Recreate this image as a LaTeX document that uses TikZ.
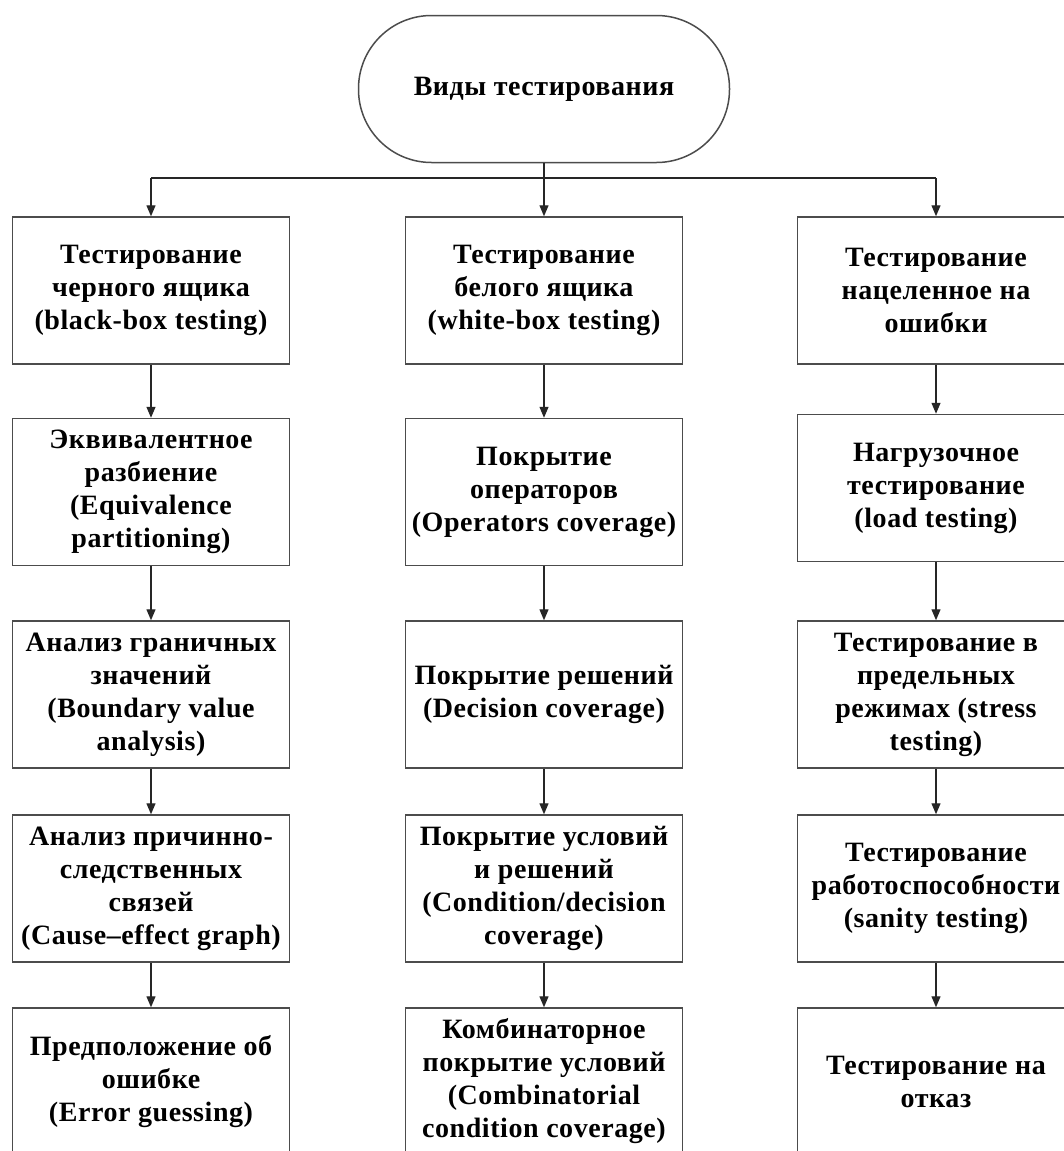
\documentclass[tikz,border=0pt]{standalone}
\usepackage{fontspec}
\setmainfont{Liberation Serif}[LetterSpace=2]
\usetikzlibrary{arrows.meta}
\tikzset{
  box/.style={draw=black!70, line width=1.5pt, rectangle, minimum width=277pt, minimum height=147pt, align=center, inner sep=2pt, font=\fontsize{28}{33}\selectfont\bfseries, text=black},
  start/.style={box, rounded corners=73pt, minimum width=371pt},
  conn/.style={line width=1.3pt, draw=black!85},
  arr/.style={conn, -{Triangle[length=11pt,width=9pt]}}
}
\begin{document}
\begin{tikzpicture}[x=1pt,y=-1pt]
\useasboundingbox (0,0) rectangle (1064,1151);
\clip (0,0) rectangle (1064,1151);
\fill[white] (0,0) rectangle (1064,1151);

\node[start] (top) at (544,89) {Виды тестирования};

\node[box] (a1) at (151,290.5) {Тестирование\\черного ящика\\(black-box testing)};
\node[box] (b1) at (544,290.5) {Тестирование\\белого ящика\\(white-box testing)};
\node[box] (c1) at (936,290.5) {Тестирование\\нацеленное на\\ошибки};

\node[box] (a2) at (151,492) {Эквивалентное\\разбиение\\(Equivalence\\partitioning)};
\node[box] (b2) at (544,492) {Покрытие\\операторов\\(Operators coverage)};
\node[box] (c2) at (936,488) {Нагрузочное\\тестирование\\(load testing)};

\node[box] (a3) at (151,694.5) {Анализ граничных\\значений\\(Boundary value\\analysis)};
\node[box] (b3) at (544,694.5) {Покрытие решений\\(Decision coverage)};
\node[box] (c3) at (936,694.5) {Тестирование в\\предельных\\режимах (stress\\testing)};

\node[box] (a4) at (151,888.5) {Анализ причинно-\\следственных\\связей\\(Cause–effect graph)};
\node[box] (b4) at (544,888.5) {Покрытие условий\\и решений\\(Condition/decision\\coverage)};
\node[box] (c4) at (936,888.5) {Тестирование\\работоспособности\\(sanity testing)};

\node[box] (a5) at (151,1081.5) {Предположение об\\ошибке\\(Error guessing)};
\node[box] (b5) at (544,1081.5) {Комбинаторное\\покрытие условий\\(Combinatorial\\condition coverage)};
\node[box] (c5) at (936,1081.5) {Тестирование на\\отказ};

\coordinate (hl) at (151,178);
\coordinate (hr) at (936,178);
\draw[conn] (hl) -- (hr);
\draw[arr] (top.south) -- (b1.north);
\draw[arr] (hl) -- (a1.north);
\draw[arr] (hr) -- (c1.north);

\foreach \c in {a,b,c}{
  \draw[arr] (\c1.south) -- (\c2.north);
  \draw[arr] (\c2.south) -- (\c3.north);
  \draw[arr] (\c3.south) -- (\c4.north);
  \draw[arr] (\c4.south) -- (\c5.north);
}
\end{tikzpicture}
\end{document}
